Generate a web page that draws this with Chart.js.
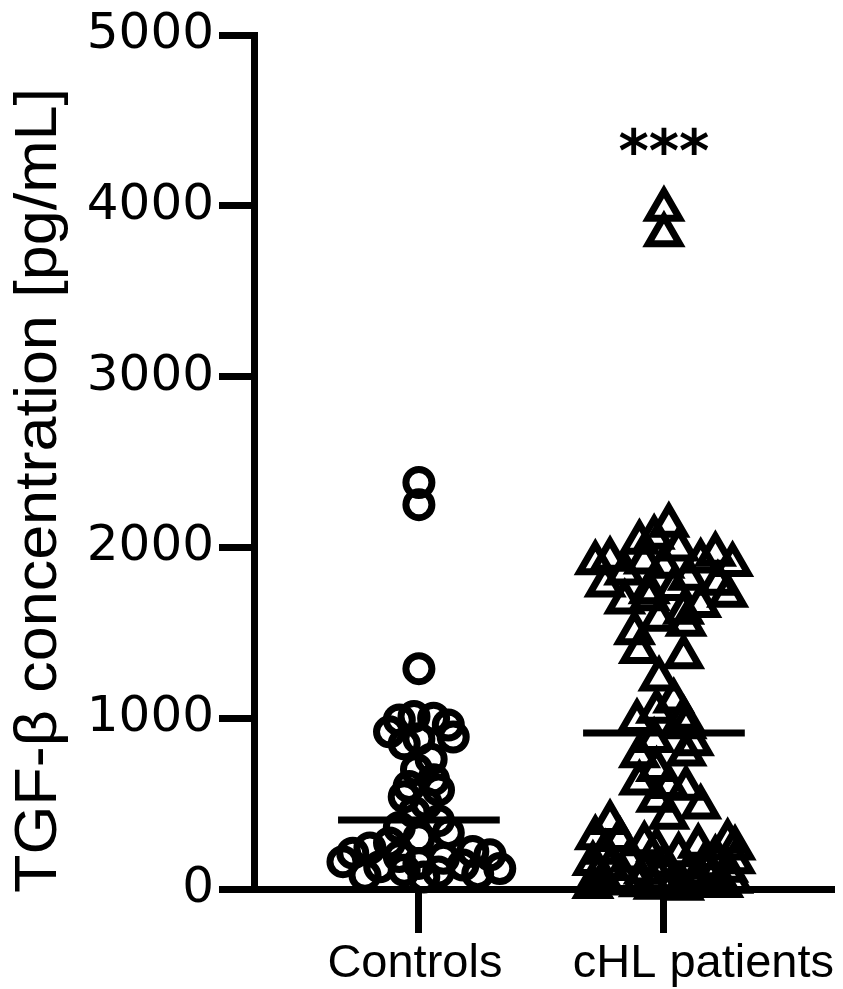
<!DOCTYPE html>
<html>
<head>
<meta charset="utf-8">
<script src="https://cdn.jsdelivr.net/npm/chart.js"></script>
<style>
  html, body { margin: 0; padding: 0; background: #fff; }
  canvas { display: block; }
</style>
</head>
<body>
<canvas id="tgfChart" width="843" height="989"></canvas>
<script>
const groups = ['Controls', 'cHL patients'];

// TGF-beta, pg/mL
const controlValues = [2380, 2250, 1290,
  1010, 1000, 990, 960, 920, 890, 880, 850, 760, 700, 640, 600, 580, 540, 500, 450, 400, 360, 330, 300, 270,
  240, 220, 210, 200, 190, 180, 160, 150, 140, 130, 120, 110, 100, 90, 80, 70];
// horizontal scatter of each point around its group (x units)
const controlSpread = [0, 0, 0,
  -0.02, 0.06, -0.08, 0.12, -0.12, 0.14, 0, -0.06, 0.05, -0.01, 0.06, -0.04, 0.08, -0.06, 0.03, -0.02, 0.08, -0.08, 0.12, 0, -0.12,
  -0.2, 0.22, -0.27, 0.29, -0.08, 0.1, -0.31, 0, 0.18, -0.16, 0.33, -0.06, 0.08, 0.24, -0.22, 0.02];

const chlValues = [3980, 3830,
  2130, 2060, 2030,
  1990, 1960, 1930, 1920, 1915, 1910, 1900, 1890,
  1850, 1820, 1790, 1780, 1760, 1740, 1720,
  1700, 1680, 1660, 1620, 1580,
  1550, 1500, 1390, 1360, 1230, 1100,
  1040, 1000, 980, 950, 870, 850, 790, 780, 700, 620, 600, 590, 520, 480, 420, 390,
  300, 290, 280, 265, 250, 240, 230, 215, 200, 185, 170, 160, 150, 140, 130, 120, 110, 100,
  90, 80, 70, 60, 55, 45, 40, 35, 30, 25, 20, 15, 10, 5];
const chlSpread = [0, 0,
  0.02, -0.04, -0.1,
  0.06, 0.21, -0.22, 0.15, -0.08, -0.28, 0.28, 0,
  -0.16, 0.1, 0.22, -0.24, 0.04, -0.06, 0.26,
  -0.06, -0.16, 0.15, 0.08, -0.02,
  0.09, -0.12, -0.1, 0.08, -0.02, 0.04,
  -0.03, 0.08, -0.11, 0.09, -0.04, 0.12, 0.09, -0.1, -0.03, -0.1, 0.02, 0.09, -0.03, 0.15, 0.02, -0.22,
  -0.28, -0.18, 0.26, -0.08, 0.14, 0.29, -0.03, -0.24, 0.06, 0.21, -0.14, 0.29, -0.29, 0, 0.16, -0.22, 0.26, -0.08,
  0.1, -0.27, 0.2, -0.02, -0.16, 0.28, 0.04, -0.24, 0.14, -0.1, 0.24, -0.29, -0.04, 0.08];

const meanValues = [404, 913];
const significance = ['', '***'];
const yTicks = [0, 1000, 2000, 3000, 4000, 5000];
const yTitle = 'TGF-\u03B2 concentration [pg/mL]';

function toPoints(values, spread, pos) {
  return values.map((v, i) => ({ x: pos + spread[i], y: v }));
}
function meanLine(i) {
  return [{ x: i + 1 - 0.33, y: meanValues[i] }, { x: i + 1 + 0.33, y: meanValues[i] }];
}

const extras = {
  id: 'extras',
  afterDraw(chart) {
    const ctx = chart.ctx;
    const xs = chart.scales.x, ys = chart.scales.y, area = chart.chartArea;
    ctx.save();
    ctx.fillStyle = '#000';

    // group names under the x axis; the last one ends at the axis end
    ctx.font = '47px "Liberation Sans", Arial, sans-serif';
    ctx.textAlign = 'left';
    ctx.textBaseline = 'alphabetic';
    groups.forEach((g, i) => {
      const px = xs.getPixelForValue(i + 1);
      const w = ctx.measureText(g).width;
      const left = i === groups.length - 1 ? area.right - w : px - w / 2 - 4;
      ctx.fillText(g, left, area.bottom + 88);
    });

    // significance stars
    ctx.font = 'bold 58px "DejaVu Sans", sans-serif';
    ctx.textAlign = 'center';
    significance.forEach((s, i) => {
      if (!s) return;
      const vals = i === 0 ? controlValues : chlValues;
      ctx.fillText(s, xs.getPixelForValue(i + 1), ys.getPixelForValue(Math.max(...vals)) - 38);
    });

    // y title
    ctx.font = '59px "Liberation Sans", Arial, sans-serif';
    const tw = ctx.measureText(yTitle).width;
    ctx.translate(56, area.bottom + 4);
    ctx.rotate(-Math.PI / 2);
    ctx.scale(805 / tw, 1);
    ctx.textAlign = 'left';
    ctx.fillText(yTitle, 0, 0);
    ctx.restore();
  }
};

new Chart(document.getElementById('tgfChart'), {
  type: 'scatter',
  data: {
    datasets: [
      { label: 'Controls mean', data: meanLine(0), showLine: true, borderColor: '#000', borderWidth: 7, pointRadius: 0, clip: false, order: 0 },
      { label: 'cHL mean', data: meanLine(1), showLine: true, borderColor: '#000', borderWidth: 7, pointRadius: 0, clip: false, order: 0 },
      { label: groups[0], data: toPoints(controlValues, controlSpread, 1), pointStyle: 'circle', pointRadius: 13, borderWidth: 7,
        borderColor: '#000', backgroundColor: 'rgba(0,0,0,0)', clip: false, order: 1 },
      { label: groups[1], data: toPoints(chlValues, chlSpread, 2), pointStyle: 'triangle', pointRadius: 18, borderWidth: 7,
        borderColor: '#000', backgroundColor: 'rgba(0,0,0,0)', clip: false, order: 1 }
    ]
  },
  options: {
    responsive: false,
    animation: false,
    events: [],
    layout: { autoPadding: false, padding: { top: 35, right: 9, left: 0, bottom: 0 } },
    plugins: { legend: { display: false }, tooltip: { enabled: false } },
    scales: {
      x: {
        type: 'linear', min: 0.327, max: 2.694,
        afterBuildTicks: s => { s.ticks = groups.map((g, i) => ({ value: i + 1 })); },
        afterFit: s => { s.height = 100; },
        ticks: { display: false },
        grid: { drawOnChartArea: false, drawTicks: true, tickLength: 44, tickWidth: 7, tickColor: '#000' },
        border: { color: '#000', width: 7 }
      },
      y: {
        min: 0, max: 5000,
        afterBuildTicks: s => { s.ticks = yTicks.map(v => ({ value: v })); },
        afterFit: s => { s.width = 254; },
        ticks: { color: '#000', padding: 5, font: { family: 'DejaVu Sans', size: 50 }, callback: v => String(v) },
        grid: { drawOnChartArea: false, drawTicks: true, tickLength: 35, tickWidth: 7, tickColor: '#000' },
        border: { color: '#000', width: 7 }
      }
    }
  },
  plugins: [extras]
});
</script>
</body>
</html>
